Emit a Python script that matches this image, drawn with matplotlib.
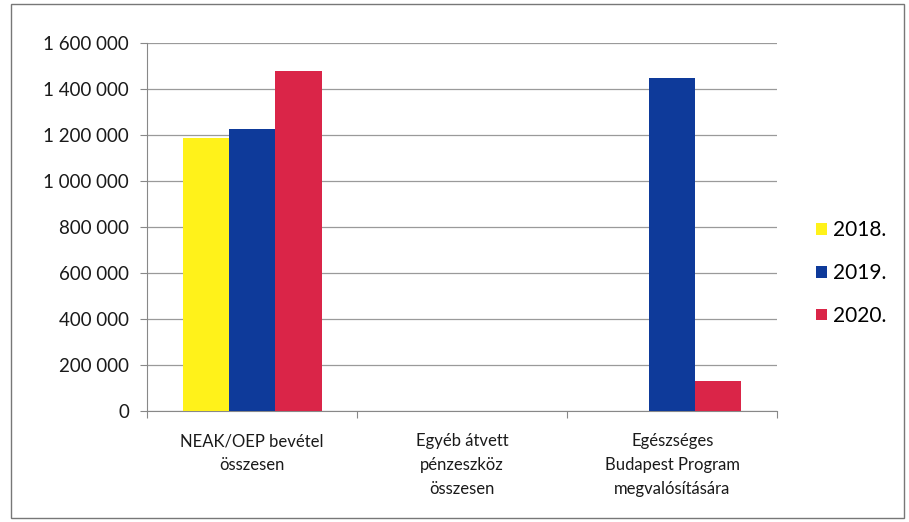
import numpy as np
import matplotlib
matplotlib.use('Agg')
import matplotlib.pyplot as plt
from matplotlib.patches import Rectangle
from matplotlib.ticker import FuncFormatter

categories = ['NEAK/OEP bevétel\nösszesen',
              'Egyéb átvett\npénzeszköz\nösszesen',
              'Egészséges\nBudapest Program\nmegvalósítására']
years = ['2018.', '2019.', '2020.']
values_2018 = [1187000, 0, 0]
values_2019 = [1226000, 0, 1449000]
values_2020 = [1479000, 0, 132000]
colors = ['#FFF21A', '#0E3A9A', '#DA2548']

plt.rcParams['font.family'] = ['Lato', 'DejaVu Sans']

fig = plt.figure(figsize=(9.09, 5.22), dpi=100)
ax = fig.add_axes([0.162, 0.2126, 0.693, 0.705])

x = np.arange(len(categories))
width = 0.22  # width of one bar
series = [values_2018, values_2019, values_2020]
for i, (vals, col, lab) in enumerate(zip(series, colors, years)):
    ax.bar(x + (i - 1) * width, vals, width, color=col, label=lab, zorder=3)

ax.set_xlim(-0.5, len(categories) - 0.5)
ax.set_ylim(0, 1600000)
ax.set_yticks(np.arange(0, 1600001, 200000))
ax.yaxis.set_major_formatter(FuncFormatter(lambda v, p: f'{int(v):,}'.replace(',', ' ')))
ax.grid(axis='y', color='#9a9a9a', linewidth=0.9, zorder=0)

# tick marks at category boundaries, labels at centres
ax.set_xticks(np.arange(-0.5, len(categories), 1.0))
ax.set_xticklabels([])
ax.set_xticks(x, minor=True)
ax.set_xticklabels(categories, minor=True, fontsize=12, color='#1a1a1a',
                   linespacing=1.6)
ax.tick_params(axis='x', which='minor', length=0, pad=16)
ax.tick_params(axis='x', which='major', length=5, color='#888888', direction='out')
ax.tick_params(axis='y', length=5, color='#888888', labelsize=13.5,
               labelcolor='#1a1a1a', pad=8)

for side in ['top', 'right']:
    ax.spines[side].set_visible(False)
for side in ['left', 'bottom']:
    ax.spines[side].set_color('#888888')

ax.legend(loc='center left', bbox_to_anchor=(0.882, 0.477), bbox_transform=fig.transFigure,
          frameon=False, fontsize=15, handlelength=0.5, handleheight=0.5,
          handletextpad=0.3, labelspacing=1.1, borderpad=0.2)

fig.patches.append(Rectangle((0.012, 0.008), 0.982, 0.985, transform=fig.transFigure,
                             fill=False, edgecolor='#777777', linewidth=1.0))

fig.savefig('out.png', dpi=100)
